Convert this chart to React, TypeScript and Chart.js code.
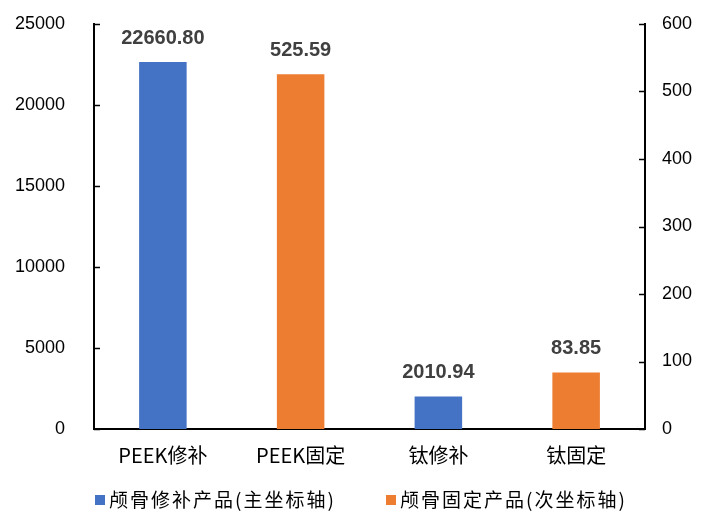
import React, { useEffect, useRef } from "react";
import { Chart, registerables } from "chart.js";

Chart.register(...registerables);

const categories = ["PEEK修补", "PEEK固定", "钛修补", "钛固定"];
const repairValues: (number | null)[] = [22660.8, null, 2010.94, null];
const fixValues: (number | null)[] = [null, 525.59, null, 83.85];
const seriesLabels = ["颅骨修补产品(主坐标轴)", "颅骨固定产品(次坐标轴)"];
const seriesColors = ["#4472C4", "#ED7D31"];
const leftAxis = { min: 0, max: 25000, step: 5000 };
const rightAxis = { min: 0, max: 600, step: 100 };

const TICK_FONT = "'Liberation Sans', Arial, sans-serif";
const CJK_FONT = "'Noto Sans CJK SC', 'Liberation Sans', sans-serif";

const innerTicks = {
  id: "innerTicks",
  afterDraw(chart: any) {
    const ctx = chart.ctx;
    ctx.save();
    ctx.strokeStyle = "#000";
    ctx.lineWidth = 1.5;
    const y = chart.scales.y;
    const y1 = chart.scales.y1;
    y.ticks.forEach((_t: any, i: number) => {
      const py = Math.round(y.getPixelForTick(i)) + 0.5;
      ctx.beginPath();
      ctx.moveTo(y.right, py);
      ctx.lineTo(y.right + 6, py);
      ctx.stroke();
    });
    y1.ticks.forEach((_t: any, i: number) => {
      const py = Math.round(y1.getPixelForTick(i)) + 0.5;
      ctx.beginPath();
      ctx.moveTo(y1.left, py);
      ctx.lineTo(y1.left - 6, py);
      ctx.stroke();
    });
    ctx.restore();
  },
};

const valueLabels = {
  id: "valueLabels",
  afterDatasetsDraw(chart: any) {
    const ctx = chart.ctx;
    ctx.save();
    ctx.font = `bold 20px ${TICK_FONT}`;
    ctx.fillStyle = "#404040";
    ctx.textAlign = "center";
    ctx.textBaseline = "alphabetic";
    chart.data.datasets.forEach((ds: any, di: number) => {
      const meta = chart.getDatasetMeta(di);
      meta.data.forEach((el: any, i: number) => {
        const v = ds.data[i];
        if (v === null || v === undefined) return;
        ctx.fillText(Number(v).toFixed(2), el.x, el.y - 18);
      });
    });
    ctx.restore();
  },
};

const customLegend = {
  id: "customLegend",
  afterDraw(chart: any) {
    const ctx = chart.ctx;
    ctx.save();
    ctx.font = `19px ${CJK_FONT}`;
    ctx.textBaseline = "middle";
    ctx.textAlign = "left";
    const cy = 500;
    const boxSize = 10;
    const boxX = [95, 386];
    const targetW = 227;
    seriesLabels.forEach((l, i) => {
      ctx.fillStyle = seriesColors[i];
      ctx.fillRect(boxX[i], cy - boxSize / 2, boxSize, boxSize);
      const w = ctx.measureText(l).width;
      const n = Array.from(l).length;
      const ls = Math.max(0, (targetW - w) / n);
      (ctx as any).letterSpacing = `${ls}px`;
      ctx.fillStyle = "#000";
      ctx.fillText(l, boxX[i] + 14, cy);
      (ctx as any).letterSpacing = "0px";
    });
    ctx.restore();
  },
};

function fixVertical(width: number) {
  return (scale: any) => {
    scale.width = width;
    scale.paddingTop = 0;
    scale.paddingBottom = 0;
  };
}

export default function App() {
  const ref = useRef<HTMLCanvasElement | null>(null);
  useEffect(() => {
    if (!ref.current) return;
    const chart = new Chart(ref.current, {
      type: "bar",
      data: {
        labels: categories,
        datasets: [
          {
            label: seriesLabels[0],
            data: repairValues,
            backgroundColor: seriesColors[0],
            yAxisID: "y",
            grouped: false,
            barPercentage: 0.345,
            categoryPercentage: 1,
          } as any,
          {
            label: seriesLabels[1],
            data: fixValues,
            backgroundColor: seriesColors[1],
            yAxisID: "y1",
            grouped: false,
            barPercentage: 0.345,
            categoryPercentage: 1,
          } as any,
        ],
      },
      options: {
        animation: false,
        responsive: true,
        maintainAspectRatio: false,
        layout: { padding: { top: 24, left: 0, right: 0, bottom: 0 } },
        plugins: {
          legend: { display: false },
          tooltip: { enabled: false },
        },
        scales: {
          x: {
            grid: { display: false, drawTicks: false },
            border: { display: true, color: "#000", width: 2 },
            ticks: {
              color: "#000",
              font: { family: CJK_FONT, size: 20 },
              padding: 14,
              maxRotation: 0,
              autoSkip: false,
            },
            afterFit(scale: any) {
              scale.height = 83;
              scale.paddingLeft = 0;
              scale.paddingRight = 0;
            },
          },
          y: {
            position: "left",
            min: leftAxis.min,
            max: leftAxis.max,
            grid: { display: false, drawTicks: false },
            border: { display: true, color: "#000", width: 2 },
            ticks: {
              stepSize: leftAxis.step,
              color: "#000",
              font: { family: TICK_FONT, size: 18 },
              padding: 29,
              callback: (v: any) => String(v),
            },
            afterFit: fixVertical(94),
          },
          y1: {
            position: "right",
            min: rightAxis.min,
            max: rightAxis.max,
            grid: { display: false, drawTicks: false },
            border: { display: true, color: "#000", width: 2 },
            ticks: {
              stepSize: rightAxis.step,
              color: "#000",
              font: { family: TICK_FONT, size: 18 },
              padding: 17,
              callback: (v: any) => String(v),
            },
            afterFit: fixVertical(63),
          },
        },
      },
      plugins: [innerTicks, valueLabels, customLegend],
    });
    return () => chart.destroy();
  }, []);

  return (
    <div
      style={{
        position: "fixed",
        left: 0,
        top: 0,
        width: 708,
        height: 512,
        background: "#fff",
      }}
    >
      <canvas ref={ref} />
    </div>
  );
}
